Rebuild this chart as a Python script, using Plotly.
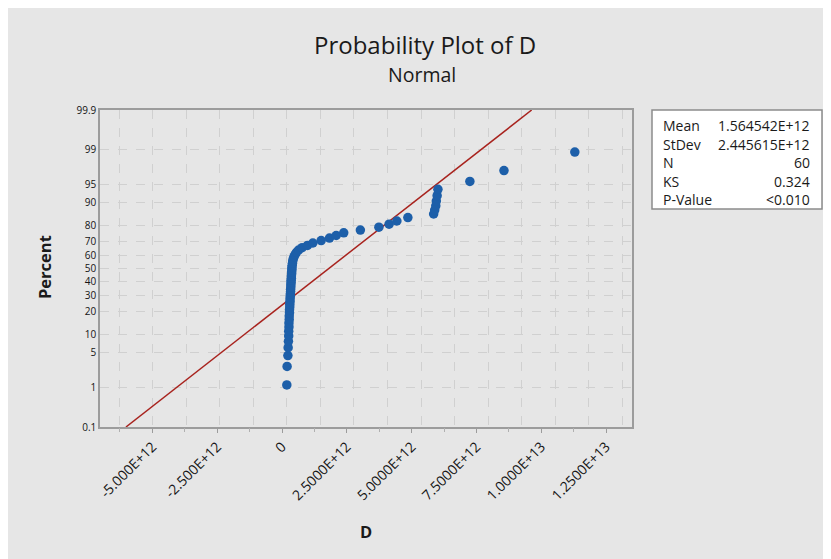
import plotly.graph_objects as go
from statistics import NormalDist

# ---- data (D in units of 1e12, sorted ascending) ----
d_values_e12 = [
    0.00, 0.01, 0.04, 0.05, 0.06, 0.07, 0.07, 0.08, 0.08, 0.09,
    0.09, 0.10, 0.10, 0.11, 0.11, 0.12, 0.12, 0.13, 0.13, 0.14,
    0.14, 0.15, 0.15, 0.16, 0.16, 0.17, 0.17, 0.18, 0.18, 0.19,
    0.19, 0.20, 0.21, 0.22, 0.24, 0.27, 0.31, 0.36, 0.44, 0.57,
    0.77, 0.97, 1.28, 1.59, 1.84, 2.12, 2.74, 3.43, 3.81, 4.10,
    4.51, 5.47, 5.51, 5.55, 5.57, 5.60, 5.63, 6.82, 8.09, 10.73,
]
# plotting positions (percent), median ranks
percent = [
    1.159, 2.815, 4.470, 6.126, 7.781, 9.437, 11.093, 12.748, 14.404, 16.060,
    17.715, 19.371, 21.026, 22.682, 24.338, 25.993, 27.649, 29.305, 30.960, 32.616,
    34.272, 35.927, 37.583, 39.238, 40.894, 42.550, 44.205, 45.861, 47.517, 49.172,
    50.828, 52.483, 54.139, 55.795, 57.450, 59.106, 60.762, 62.417, 64.073, 65.728,
    67.384, 69.040, 70.695, 72.351, 74.007, 75.662, 77.318, 78.974, 80.629, 82.285,
    83.940, 85.596, 87.252, 88.907, 90.563, 92.219, 93.874, 95.530, 97.185, 98.841,
]
MEAN = 1.564542e12
STDEV = 2.445615e12
N = 60
KS = 0.324
stat_labels = ["Mean", "StDev", "N", "KS", "P-Value"]
stat_texts = ["1.564542E+12", "2.445615E+12", "60", "0.324", "<0.010"]

y_tick_pct = [0.1, 1, 5, 10, 20, 30, 40, 50, 60, 70, 80, 90, 95, 99, 99.9]
y_tick_text = ["0.1", "1", "5", "10", "20", "30", "40", "50", "60", "70", "80", "90", "95", "99", "99.9"]
x_tick_vals = [-5e12, -2.5e12, 0, 2.5e12, 5e12, 7.5e12, 1e13, 1.25e13]
x_tick_text = ["-5.000E+12", "-2.500E+12", "0", "2.5000E+12", "5.0000E+12",
               "7.5000E+12", "1.0000E+13", "1.2500E+13"]

nd = NormalDist()
def probit(p):
    return nd.inv_cdf(p / 100.0)

d_values = [v * 1e12 for v in d_values_e12]
z_pts = [probit(p) for p in percent]
z_lo, z_hi = probit(0.1), probit(99.9)
fit_z = [z_lo, z_hi]
fit_x = [MEAN + z * STDEV for z in fit_z]

FONT = "Open Sans"
OFF = 8                       # page body margin
WIN_W, WIN_H = 831, 559
PL, PR, PT, PB = 100, 632, 110, 427   # plot area in window pixels
W, H = WIN_W - OFF, WIN_H - OFF
L, R, T, B = PL - OFF, WIN_W - PR, PT - OFF, WIN_H - PB
PW, PH = PR - PL, PB - PT

def px(x):
    return (x - PL) / PW

def py(y):
    return (PB - y) / PH

fig = go.Figure()
fig.add_trace(go.Scatter(x=fit_x, y=fit_z, mode="lines",
                         line=dict(color="#a8231e", width=1.5),
                         hoverinfo="skip", showlegend=False))
fig.add_trace(go.Scatter(x=d_values, y=z_pts, mode="markers",
                         marker=dict(color="#1d5fa9", size=9.5, line=dict(width=0)),
                         showlegend=False))
# carrier for the labelled tick axis
fig.add_trace(go.Scatter(x=x_tick_vals, y=[0] * len(x_tick_vals), xaxis="x2",
                         mode="markers", marker=dict(opacity=0),
                         hoverinfo="skip", showlegend=False))

grid = dict(showgrid=True, gridcolor="#d0d0d0", gridwidth=1, griddash="dash")

fig.update_layout(
    width=W, height=H,
    margin=dict(l=L, r=R, t=T, b=B),
    paper_bgcolor="white",
    plot_bgcolor="white",
    font=dict(family=FONT, color="#1a1a1a"),
    xaxis=dict(range=[-6.96e12, 12.86e12], tickmode="linear", tick0=0, dtick=1.25e12,
               showticklabels=False, ticks="", zeroline=False,
               showline=True, linecolor="#9c9c9c", linewidth=1.5, mirror=True, **grid),
    xaxis2=dict(range=[-7.02e12, 13.5e12], overlaying="x", anchor="y", side="bottom",
                tickmode="array", tickvals=x_tick_vals, ticktext=x_tick_text,
                tickangle=-45, ticks="outside", ticklen=5, tickcolor="#9c9c9c",
                tickfont=dict(size=14, color="#141414", family=FONT),
                minor=dict(ticks="outside", tickmode="linear", tick0=0, dtick=1.25e12,
                           ticklen=4, tickcolor="#b0b0b0", showgrid=False),
                showgrid=False, zeroline=False, showline=False),
    yaxis=dict(range=[z_lo, z_hi], tickmode="array",
               tickvals=[probit(p) for p in y_tick_pct], ticktext=y_tick_text,
               ticks="", tickfont=dict(size=10, color="#141414"), zeroline=False,
               showline=True, linecolor="#9c9c9c", linewidth=1.5, mirror=True, **grid),
)

shapes = [
    dict(type="rect", xref="paper", yref="paper", layer="below",
         x0=px(OFF), x1=px(WIN_W), y0=py(WIN_H), y1=py(OFF),
         fillcolor="#e6e6e6", line=dict(width=0)),
    dict(type="rect", xref="paper", yref="paper",
         x0=px(652), x1=px(822), y0=py(209), y1=py(110),
         fillcolor="white", line=dict(color="#8c8c8c", width=1.5)),
]
fig.update_layout(shapes=shapes)

ann = [
    dict(text="Probability Plot of D", x=px(424.7), y=py(45), xref="paper", yref="paper",
         showarrow=False, xanchor="center", yanchor="middle",
         font=dict(size=24, color="#1a1a1a", family=FONT)),
    dict(text="Normal", x=px(421.7), y=py(74), xref="paper", yref="paper",
         showarrow=False, xanchor="center", yanchor="middle",
         font=dict(size=19.5, color="#1a1a1a", family=FONT)),
    dict(text="<b>Percent</b>", x=px(44), y=py(267), xref="paper", yref="paper",
         showarrow=False, xanchor="center", yanchor="middle", textangle=-90,
         font=dict(size=16.5, color="#1a1a1a", family=FONT)),
    dict(text="<b>D</b>", x=px(366), y=py(531), xref="paper", yref="paper",
         showarrow=False, xanchor="center", yanchor="middle",
         font=dict(size=16.5, color="#1a1a1a", family=FONT)),
]
row_y = [125, 144, 162.5, 181, 199.5]
for lab, txt, ry in zip(stat_labels, stat_texts, row_y):
    ann.append(dict(text=lab, x=px(661), y=py(ry), xref="paper", yref="paper",
                    showarrow=False, xanchor="left", yanchor="middle",
                    font=dict(size=14, color="#1a1a1a", family=FONT)))
    ann.append(dict(text=txt, x=px(812), y=py(ry), xref="paper", yref="paper",
                    showarrow=False, xanchor="right", yanchor="middle",
                    font=dict(size=14, color="#1a1a1a", family=FONT)))
fig.update_layout(annotations=ann)

fig.write_html("out.html")
